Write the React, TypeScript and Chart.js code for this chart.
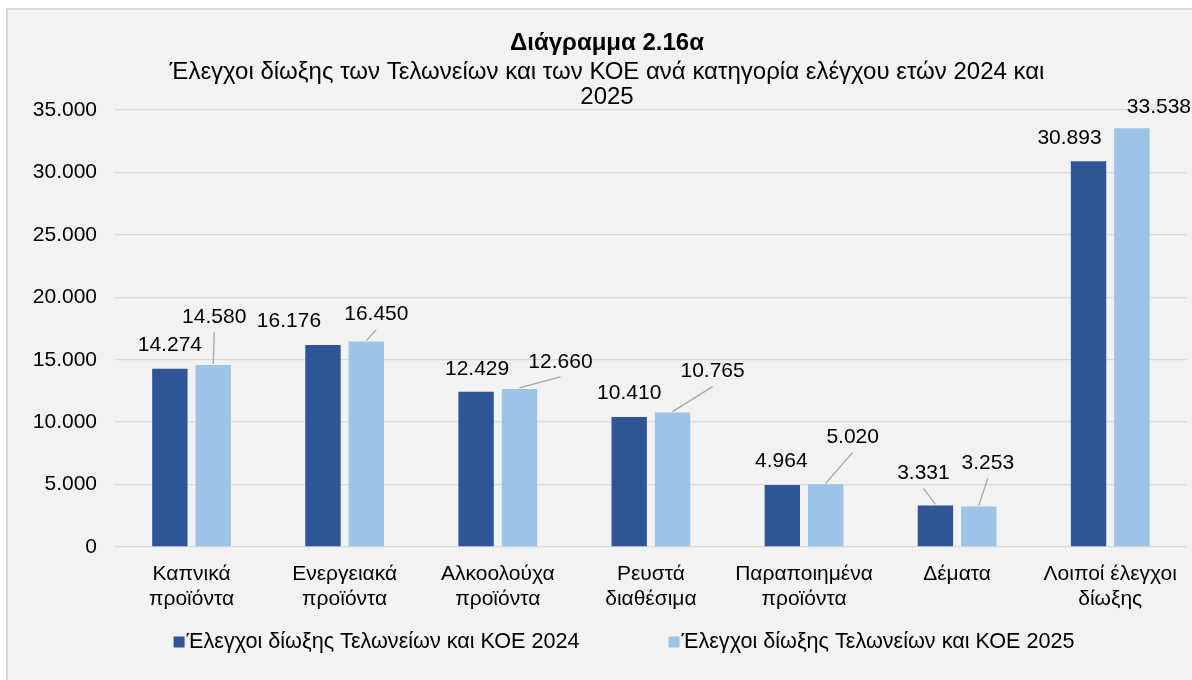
import React, { useEffect, useRef } from "react";
import { Chart, registerables } from "chart.js";

Chart.register(...registerables);

// ---- Data ----
const categories: string[][] = [
  ["Καπνικά", "προϊόντα"],
  ["Ενεργειακά", "προϊόντα"],
  ["Αλκοολούχα", "προϊόντα"],
  ["Ρευστά", "διαθέσιμα"],
  ["Παραποιημένα", "προϊόντα"],
  ["Δέματα"],
  ["Λοιποί έλεγχοι", "δίωξης"],
];
const values2024: number[] = [14274, 16176, 12429, 10410, 4964, 3331, 30893];
const values2025: number[] = [14580, 16450, 12660, 10765, 5020, 3253, 33538];
const seriesNames: string[] = [
  "Έλεγχοι δίωξης Τελωνείων και ΚΟΕ 2024",
  "Έλεγχοι δίωξης Τελωνείων και ΚΟΕ 2025",
];
const yMin = 0;
const yMax = 35000;
const yStep = 5000;
const titleText = "Διάγραμμα 2.16α";
const subtitleLines: string[] = [
  "Έλεγχοι δίωξης των Τελωνείων και των ΚΟΕ ανά κατηγορία ελέγχου ετών 2024 και",
  "2025",
];

// ---- Style ----
const FONT = '"Liberation Sans", Arial, sans-serif';
const colors = ["#2F5597", "#9DC3E6"];
// label offsets relative to bar top centre: [dx, dy, hasLeaderLine]
const labelLayout: [number, number, boolean][][] = [
  [[0, -24, false], [-34, -24, false], [1, -23, false], [0, -24, false], [-1, -24, false], [-12, -32, true], [-19, -23, false]],
  [[1, -48, true], [10, -27, true], [41, -27, true], [40, -41, true], [27, -47, true], [9, -43, true], [27, -21, false]],
];

const fmt = (n: number) => String(n).replace(/\B(?=(\d{3})+(?!\d))/g, ".");

const labelPlugin = {
  id: "barLabels",
  afterDatasetsDraw(chart: any) {
    const ctx = chart.ctx;
    ctx.save();
    ctx.font = `21px ${FONT}`;
    ctx.fillStyle = "#000";
    ctx.textAlign = "center";
    ctx.textBaseline = "middle";
    chart.data.datasets.forEach((ds: any, di: number) => {
      const meta = chart.getDatasetMeta(di);
      meta.data.forEach((bar: any, i: number) => {
        const [dx, dy, leader] = labelLayout[di][i];
        const lx = bar.x + dx;
        const ly = bar.y + dy;
        if (leader) {
          ctx.strokeStyle = "#a6a6a6";
          ctx.lineWidth = 1.3;
          ctx.beginPath();
          ctx.moveTo(lx, ly + 15);
          ctx.lineTo(bar.x, bar.y - 1);
          ctx.stroke();
        }
        ctx.fillText(fmt(ds.data[i]), lx, ly);
      });
    });
    ctx.restore();
  },
};

const legendPlugin = {
  id: "customLegend",
  afterDraw(chart: any) {
    const ctx = chart.ctx;
    ctx.save();
    ctx.font = `21.6px ${FONT}`;
    ctx.textBaseline = "middle";
    ctx.textAlign = "left";
    const box = 11;
    const gapText = 2;
    const gapItems = 89;
    const centerX = 624;
    const cy = 642;
    const ds = chart.data.datasets;
    const widths = ds.map((d: any) => box + gapText + ctx.measureText(d.label).width);
    const total = widths.reduce((a: number, b: number) => a + b, 0) + gapItems * (ds.length - 1);
    let x = centerX - total / 2;
    ds.forEach((d: any, i: number) => {
      ctx.fillStyle = d.backgroundColor;
      ctx.fillRect(x, cy - box / 2, box, box);
      ctx.fillStyle = "#000";
      ctx.fillText(d.label, x + box + gapText, cy);
      x += widths[i] + gapItems;
    });
    ctx.restore();
  },
};

export default function App() {
  const ref = useRef<HTMLCanvasElement>(null);
  useEffect(() => {
    if (!ref.current) return;
    const chart = new Chart(ref.current, {
      type: "bar",
      data: {
        labels: categories,
        datasets: [
          {
            label: seriesNames[0],
            data: values2024,
            backgroundColor: colors[0],
            categoryPercentage: 0.5665,
            barPercentage: 0.816,
          },
          {
            label: seriesNames[1],
            data: values2025,
            backgroundColor: colors[1],
            categoryPercentage: 0.5665,
            barPercentage: 0.816,
          },
        ],
      },
      options: {
        responsive: false,
        animation: false,
        devicePixelRatio: 1,
        layout: { padding: { left: 24, right: 2, top: 0, bottom: 58 } },
        plugins: {
          legend: { display: false },
          tooltip: { enabled: false },
          title: {
            display: true,
            text: titleText,
            color: "#000",
            font: { family: FONT, size: 24, weight: "bold", lineHeight: 1 },
            padding: { top: 31, bottom: 5 },
          },
          subtitle: {
            display: true,
            text: subtitleLines,
            color: "#000",
            font: { family: FONT, size: 24, weight: "normal", lineHeight: 25 / 24 },
            padding: { top: 0, bottom: 0 },
          },
        },
        scales: {
          x: {
            grid: { display: false, drawTicks: false },
            border: { display: false },
            ticks: {
              color: "#000",
              padding: 15,
              maxRotation: 0,
              autoSkip: false,
              font: { family: FONT, size: 21, lineHeight: 25 / 21 },
            },
            afterFit: (s: any) => {
              s.height = 75;
            },
          },
          y: {
            min: yMin,
            max: yMax,
            grid: { color: "#d9d9d9", lineWidth: 1.3, drawTicks: false },
            border: { display: false },
            ticks: {
              stepSize: yStep,
              color: "#000",
              padding: 18,
              font: { family: FONT, size: 21 },
              callback: (v: any) => fmt(Number(v)),
            },
            afterFit: (s: any) => {
              s.width = 91;
            },
          },
        },
      },
      plugins: [labelPlugin, legendPlugin],
    });
    return () => chart.destroy();
  }, []);

  return (
    <div
      style={{
        position: "fixed",
        left: 0,
        top: 0,
        width: 1192,
        height: 680,
        overflow: "hidden",
        background: "#ffffff",
      }}
    >
      <div
        style={{
          position: "absolute",
          left: 6,
          top: 8,
          width: 1300,
          height: 800,
          border: "2px solid #d9d9d9",
          background: "#f2f2f2",
          boxSizing: "border-box",
        }}
      />
      <canvas
        ref={ref}
        width={1192}
        height={680}
        style={{ position: "absolute", left: 0, top: 0, width: 1192, height: 680 }}
      />
    </div>
  );
}
